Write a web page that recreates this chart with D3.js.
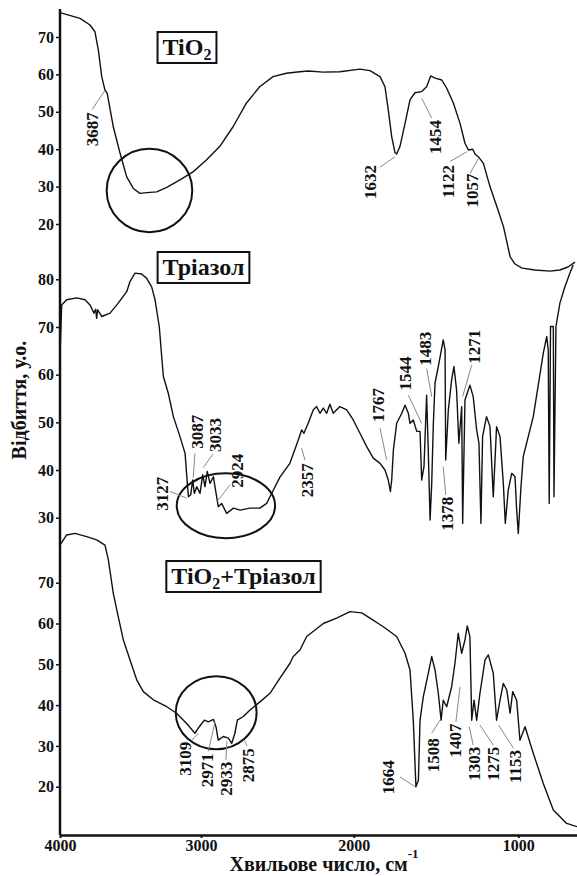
<!DOCTYPE html>
<html>
<head>
<meta charset="utf-8">
<script src="https://cdn.jsdelivr.net/npm/d3@7"></script>
<style>
  body { margin: 0; background: #fff; }
  svg { display: block; }
  text { font-family: "Liberation Serif", "Times New Roman", serif; font-weight: bold; fill: #111; }
</style>
</head>
<body>
<div id="chart"></div>
<script>
// --- Data ---
const xTicks = [4000, 3000, 2000, 1000];
const xBreaks = [4000, 3000, 2000, 1000, 643];

const tio2Wn = [4000, 3858, 3787, 3752, 3728, 3704, 3681, 3665, 3622, 3574, 3527, 3480, 3433, 3385, 3314, 3243, 3149, 3054, 2965, 2878, 2790, 2703, 2616, 2528, 2441, 2354, 2296, 2200, 2090, 1962, 1901, 1840, 1810, 1790, 1769, 1749, 1739, 1719, 1688, 1658, 1628, 1587, 1557, 1532, 1506, 1465, 1435, 1394, 1354, 1324, 1303, 1277, 1263, 1243, 1212, 1172, 1130, 1090, 1050, 1020, 977, 899, 807, 747, 698, 655];
const tio2Val = [76.5, 75.0, 73.2, 71.4, 66.5, 59.4, 55.8, 54.9, 46.0, 38.9, 32.6, 29.5, 28.2, 28.4, 28.6, 29.8, 31.8, 34.0, 37.1, 40.7, 46.0, 52.3, 56.7, 59.4, 60.3, 60.7, 60.9, 60.6, 60.7, 61.4, 61.0, 59.4, 56.7, 50.5, 43.3, 39.1, 38.7, 40.7, 46.9, 53.2, 55.1, 55.4, 56.7, 59.6, 59.0, 58.5, 56.3, 52.3, 46.9, 41.6, 39.8, 40.0, 38.7, 38.0, 36.2, 30.0, 24.6, 19.3, 11.3, 9.3, 8.2, 7.7, 7.4, 7.7, 8.5, 9.8];

const triWn = [4000, 3988, 3953, 3882, 3823, 3787, 3759, 3747, 3740, 3733, 3704, 3645, 3587, 3527, 3504, 3468, 3421, 3385, 3350, 3326, 3296, 3267, 3232, 3196, 3149, 3113, 3097, 3089, 3073, 3059, 3047, 3030, 3007, 2989, 2974, 2959, 2941, 2919, 2887, 2865, 2832, 2788, 2745, 2679, 2614, 2570, 2526, 2483, 2418, 2363, 2341, 2326, 2298, 2265, 2243, 2221, 2199, 2177, 2156, 2134, 2090, 2046, 2003, 1962, 1921, 1881, 1840, 1810, 1790, 1777, 1769, 1759, 1739, 1708, 1688, 1668, 1658, 1638, 1617, 1597, 1587, 1573, 1557, 1547, 1536, 1526, 1516, 1506, 1486, 1456, 1445, 1441, 1425, 1405, 1391, 1375, 1361, 1344, 1338, 1324, 1294, 1274, 1253, 1239, 1227, 1217, 1193, 1172, 1152, 1132, 1111, 1091, 1079, 1061, 1040, 1020, 1010, 1000, 985, 970, 909, 848, 827, 818, 812, 804, 787, 783, 771, 747, 717, 686, 666];
const triVal = [64.1, 74.6, 75.7, 76.1, 75.7, 74.6, 72.9, 73.7, 71.8, 73.6, 72.2, 72.9, 75.0, 77.4, 79.5, 81.3, 81.1, 80.2, 78.4, 75.7, 70.1, 59.6, 56.1, 51.2, 47.0, 43.5, 37.2, 34.4, 34.8, 37.9, 35.1, 36.5, 35.1, 39.0, 36.5, 39.7, 37.2, 38.6, 32.3, 33.0, 30.9, 32.0, 31.6, 32.0, 32.0, 33.0, 35.8, 38.5, 41.4, 46.3, 48.4, 47.7, 49.8, 52.6, 53.3, 51.9, 53.0, 51.9, 53.8, 51.9, 53.3, 52.6, 50.5, 47.7, 44.9, 42.5, 41.4, 40.0, 37.9, 35.5, 37.9, 44.2, 49.8, 51.9, 53.6, 51.9, 49.8, 50.5, 48.1, 48.1, 37.9, 40.7, 55.7, 44.2, 29.5, 37.2, 49.8, 58.2, 61.7, 67.3, 65.2, 42.1, 52.6, 58.9, 61.7, 56.8, 45.6, 53.3, 28.8, 54.7, 57.8, 55.4, 48.4, 45.6, 28.8, 47.0, 51.2, 49.1, 34.4, 49.1, 47.0, 37.2, 28.8, 35.8, 39.3, 38.6, 31.6, 26.7, 35.8, 42.8, 51.2, 64.5, 68.0, 65.2, 33.0, 70.1, 70.1, 34.4, 70.1, 75.0, 78.4, 81.3, 83.0];

const mixWn = [4000, 3953, 3894, 3811, 3740, 3681, 3657, 3622, 3587, 3551, 3504, 3456, 3409, 3338, 3243, 3173, 3102, 3043, 3012, 2978, 2952, 2919, 2902, 2887, 2854, 2821, 2799, 2778, 2762, 2723, 2679, 2614, 2548, 2483, 2418, 2396, 2352, 2308, 2199, 2112, 2024, 1951, 1901, 1820, 1739, 1688, 1658, 1638, 1622, 1607, 1597, 1577, 1547, 1526, 1506, 1486, 1469, 1456, 1435, 1405, 1385, 1365, 1344, 1324, 1310, 1294, 1283, 1269, 1253, 1233, 1202, 1182, 1152, 1132, 1111, 1091, 1070, 1050, 1034, 1010, 990, 959, 909, 848, 787, 706, 643];
const mixVal = [79.2, 81.7, 82.1, 81.3, 80.5, 79.2, 75.6, 67.4, 61.7, 56.0, 51.1, 46.2, 43.3, 41.3, 39.6, 38.0, 35.5, 33.1, 34.7, 36.3, 35.9, 36.5, 34.7, 31.4, 32.3, 31.9, 30.6, 33.1, 36.3, 37.2, 38.8, 40.8, 42.9, 46.6, 50.2, 51.9, 53.5, 56.8, 60.0, 61.3, 62.9, 62.6, 61.3, 59.2, 56.8, 52.7, 48.6, 36.3, 20.0, 21.6, 36.3, 42.1, 47.8, 51.9, 48.6, 42.9, 36.3, 41.2, 39.6, 44.5, 50.2, 57.6, 52.7, 56.0, 59.4, 56.8, 36.3, 41.2, 36.3, 42.9, 51.1, 52.3, 47.8, 36.3, 41.2, 45.3, 43.7, 38.0, 43.3, 41.2, 31.4, 34.7, 28.2, 20.8, 14.3, 11.0, 10.2];

const ticks1 = [20, 30, 40, 50, 60, 70];
const ticks2 = [30, 40, 50, 60, 70, 80];
const ticks3 = [20, 30, 40, 50, 60, 70];

// peak labels: [text, textWn, textVal, leaderFromWn, leaderFromVal, leaderToWn, leaderToVal]
const peaks1 = [
  ['3687', 3775, 49.9, 3772, 50.6, 3684, 55.6],
  ['1632', 1902, 35.8, 1840, 35.2, 1749, 38.0],
  ['1454', 1506, 47.8, 1526, 48.3, 1587, 53.6],
  ['1122', 1425, 35.8, 1415, 36.7, 1313, 39.3],
  ['1057', 1283, 33.5, 1293, 33.5, 1243, 37.5]
];
const peaks2 = [
  ['3127', 3279, 38.6, 3220, 35.5, 3101, 34.1],
  ['3087', 3030, 51.6, 3043, 43.5, 3055, 38.4],
  ['3033', 2908, 50.9, 2921, 43.4, 2985, 40.5],
  ['2924', 2766, 43.4, 2810, 36.9, 2897, 33.3],
  ['2357', 2308, 41.4, 2319, 42.1, 2341, 44.6],
  ['1767', 1851, 57.2, 1840, 48.8, 1800, 42.1],
  ['1544', 1688, 63.8, 1668, 55.7, 1587, 49.8],
  ['1483', 1567, 69.0, 1557, 61.3, 1526, 55.4],
  ['1378', 1435, 34.4, 1441, 34.8, 1456, 40.7],
  ['1271', 1268, 69.4, 1283, 62.0, 1338, 55.4]
];
const peaks3 = [
  ['3109', 3114, 31.0, 3066, 31.4, 3019, 33.1],
  ['2971', 2963, 28.2, 2952, 28.7, 2908, 35.9],
  ['2933', 2833, 26.1, 2837, 26.5, 2830, 31.2],
  ['2875', 2689, 29.4, 2698, 30.0, 2718, 31.4],
  ['1664', 1790, 26.5, 1719, 22.4, 1628, 20.0],
  ['1508', 1516, 31.9, 1526, 33.1, 1476, 36.3],
  ['1407', 1385, 35.5, 1379, 35.9, 1354, 44.5],
  ['1303', 1268, 29.8, 1274, 30.2, 1298, 34.7],
  ['1275', 1152, 29.8, 1152, 30.2, 1233, 35.1],
  ['1153', 1019, 29.0, 1029, 29.4, 1120, 35.1]
];

// highlighted regions: [wnLeft, wnRight, valTop, valBottom]
const ring1 = [3669, 3062, 40.1, 17.8];
const ring2 = [3172, 2515, 39.3, 25.7];
const ring3 = [3179, 2636, 47.1, 29.2];

// --- Layout ---
const W = 577, H = 876;
const axisTop = 9, axisBottom = 835;

const svg = d3.select('#chart').append('svg')
  .attr('width', W).attr('height', H)
  .attr('viewBox', `0 0 ${W} ${H}`);

const x = d3.scaleLinear().domain(xBreaks).range([60, 201, 353.7, 518.3, 577]);
const y1 = d3.scaleLinear().domain([20, 70]).range([224, 37]);
const y2 = d3.scaleLinear().domain([30, 80]).range([517.7, 279.3]);
const y3 = d3.scaleLinear().domain([20, 70]).range([786.7, 582.7]);

const panels = [
  { wn: tio2Wn, val: tio2Val, y: y1, ticks: ticks1, peaks: peaks1, ring: ring1 },
  { wn: triWn, val: triVal, y: y2, ticks: ticks2, peaks: peaks2, ring: ring2 },
  { wn: mixWn, val: mixVal, y: y3, ticks: ticks3, peaks: peaks3, ring: ring3 }
];

const styleTicks = a => a.selectAll('text')
  .style('font-size', '16px')
  .style('font-family', '"Liberation Serif", serif')
  .style('font-weight', 'bold')
  .attr('fill', '#111');

panels.forEach(p => {
  const pts = p.wn.map((w, i) => [w, p.val[i]]);

  // spectrum
  svg.append('path')
    .datum(pts)
    .attr('fill', 'none')
    .attr('stroke', '#111')
    .attr('stroke-width', 1.4)
    .attr('stroke-linejoin', 'round')
    .attr('d', d3.line().x(d => x(d[0])).y(d => p.y(d[1])));

  // circled region
  const [wl, wr, vt, vb] = p.ring;
  svg.append('ellipse')
    .attr('cx', (x(wl) + x(wr)) / 2)
    .attr('cy', (p.y(vt) + p.y(vb)) / 2)
    .attr('rx', (x(wr) - x(wl)) / 2)
    .attr('ry', (p.y(vb) - p.y(vt)) / 2)
    .attr('fill', 'none')
    .attr('stroke', '#111')
    .attr('stroke-width', 2);

  // peak labels
  const g = svg.append('g');
  g.selectAll('line').data(p.peaks).join('line')
    .attr('x1', d => x(d[3])).attr('y1', d => p.y(d[4]))
    .attr('x2', d => x(d[5])).attr('y2', d => p.y(d[6]))
    .attr('stroke', '#888').attr('stroke-width', 1);
  g.selectAll('text').data(p.peaks).join('text')
    .attr('transform', d => `translate(${x(d[1])},${p.y(d[2])}) rotate(-90)`)
    .attr('text-anchor', 'end')
    .attr('dy', '0.35em')
    .style('font-size', '17px')
    .text(d => d[0]);

  // y ticks
  svg.append('g')
    .attr('transform', 'translate(60,0)')
    .call(d3.axisLeft(p.y).tickValues(p.ticks).tickSize(4).tickPadding(2))
    .call(a => a.select('.domain').remove())
    .call(a => a.selectAll('line').attr('stroke', '#111').attr('stroke-width', 1.5))
    .call(styleTicks);
});

// left axis line
svg.append('line')
  .attr('x1', 60).attr('x2', 60)
  .attr('y1', axisTop).attr('y2', axisBottom)
  .attr('stroke', '#111').attr('stroke-width', 2.5);

// x axis
svg.append('g')
  .attr('transform', `translate(0,${axisBottom})`)
  .call(d3.axisBottom(x).tickValues(xTicks).tickFormat(d3.format('d'))
    .tickSize(3).tickSizeOuter(0).tickPadding(2))
  .call(a => a.select('.domain').attr('stroke', '#111').attr('stroke-width', 2.5))
  .call(a => a.selectAll('line').attr('stroke', '#111').attr('stroke-width', 2))
  .call(styleTicks);

// axis titles
svg.append('text')
  .attr('transform', 'translate(26,400) rotate(-90)')
  .attr('text-anchor', 'middle')
  .style('font-size', '20px')
  .text('Відбиття, у.о.');

const xt = svg.append('text')
  .attr('x', 324).attr('y', 871)
  .attr('text-anchor', 'middle')
  .style('font-size', '20px');
xt.append('tspan').text('Хвильове число, см');
xt.append('tspan').attr('dy', -13).style('font-size', '13px').text('-1');

// sample name boxes
function nameBox(cx, baseline, parts) {
  const box = svg.append('g');
  const rect = box.append('rect');
  const t = box.append('text')
    .attr('x', cx).attr('y', baseline)
    .attr('text-anchor', 'middle')
    .style('font-size', '24px');
  let shifted = false;
  parts.forEach(([s, sub]) => {
    const ts = t.append('tspan').text(s);
    if (sub) { ts.attr('dy', 5).style('font-size', '16px'); shifted = true; }
    else if (shifted) { ts.attr('dy', -5); shifted = false; }
  });
  const b = t.node().getBBox();
  rect.attr('x', b.x - 5).attr('y', baseline - 23)
    .attr('width', b.width + 10).attr('height', 31)
    .attr('fill', '#fff')
    .attr('stroke', '#111').attr('stroke-width', 2);
}
nameBox(187, 55, [['TiO'], ['2', true]]);
nameBox(203.5, 275, [['Тріазол']]);
nameBox(243.5, 584, [['TiO'], ['2', true], ['+Тріазол']]);
</script>
</body>
</html>
